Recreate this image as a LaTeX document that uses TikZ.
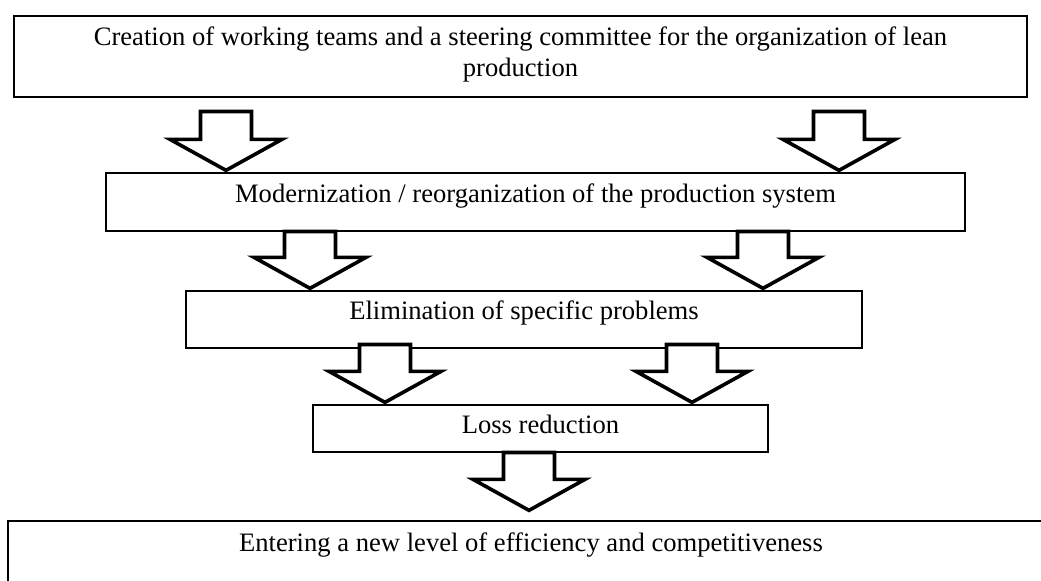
\documentclass[tikz,border=0pt]{standalone}
\usepackage{fontspec}
\setmainfont{Liberation Serif}
\usetikzlibrary{calc}
\newcommand{\mkarrow}[2]{\draw[bigarrow] ($(#1)+(-25.5,0)$) |- ($(#2)+(-56,-31)$) -- (#2) -- ($(#2)+(56,-31)$) -| ($(#1)+(25.5,0)$) -- cycle;}

\begin{document}
\begin{tikzpicture}[
    x=0.5pt, y=-0.5pt,
    box/.style={draw, line width=0.65pt, inner sep=0pt, align=center,
      font=\fontsize{13.3}{15.5}\selectfont},
    bigarrow/.style={draw, line width=1.8pt, line join=miter, fill=white},
    ]
    \clip (0,0) rectangle (1041,580);
    \node[box, minimum width=506.5pt, minimum height=40.5pt, text depth=4.5pt] (crea) at (520.5,56.5)
      {Creation of working teams and a steering committee for the organization of lean\\production};
    \node[box, minimum width=429.5pt, minimum height=29pt, text height=5pt, text depth=5pt] (mod) at (535.5,202)
      {Modernization / reorganization of the production system};
    \node[box, minimum width=338pt, minimum height=28.5pt, text height=5pt, text depth=5pt] (elim) at (524,319.5)
      {Elimination of specific problems};
    \node[box, minimum width=227.5pt, minimum height=23.5pt, text height=7pt, text depth=2.5pt] (loss) at (540.5,428.5)
      {Loss reduction};
    \node[box, minimum width=523pt, minimum height=31pt, text height=5pt, text depth=6pt] (entr) at (531,552)
      {Entering a new level of efficiency and competitiveness};
    % block arrows between the levels
    \foreach \ax/\ay/\tgt/\gap in {226/111.5/mod/2, 839/111.5/mod/2, 310/231.5/elim/2, 763/231.5/elim/2,
        385/344.5/loss/2, 692/344.5/loss/2, 529/452.5/entr/10}{
      \coordinate (top) at (\ax,\ay);
      \coordinate (tip) at ($(\tgt.north -| top)+(0,-\gap)$);
      \mkarrow{top}{tip}
    }
\end{tikzpicture}
\end{document}
